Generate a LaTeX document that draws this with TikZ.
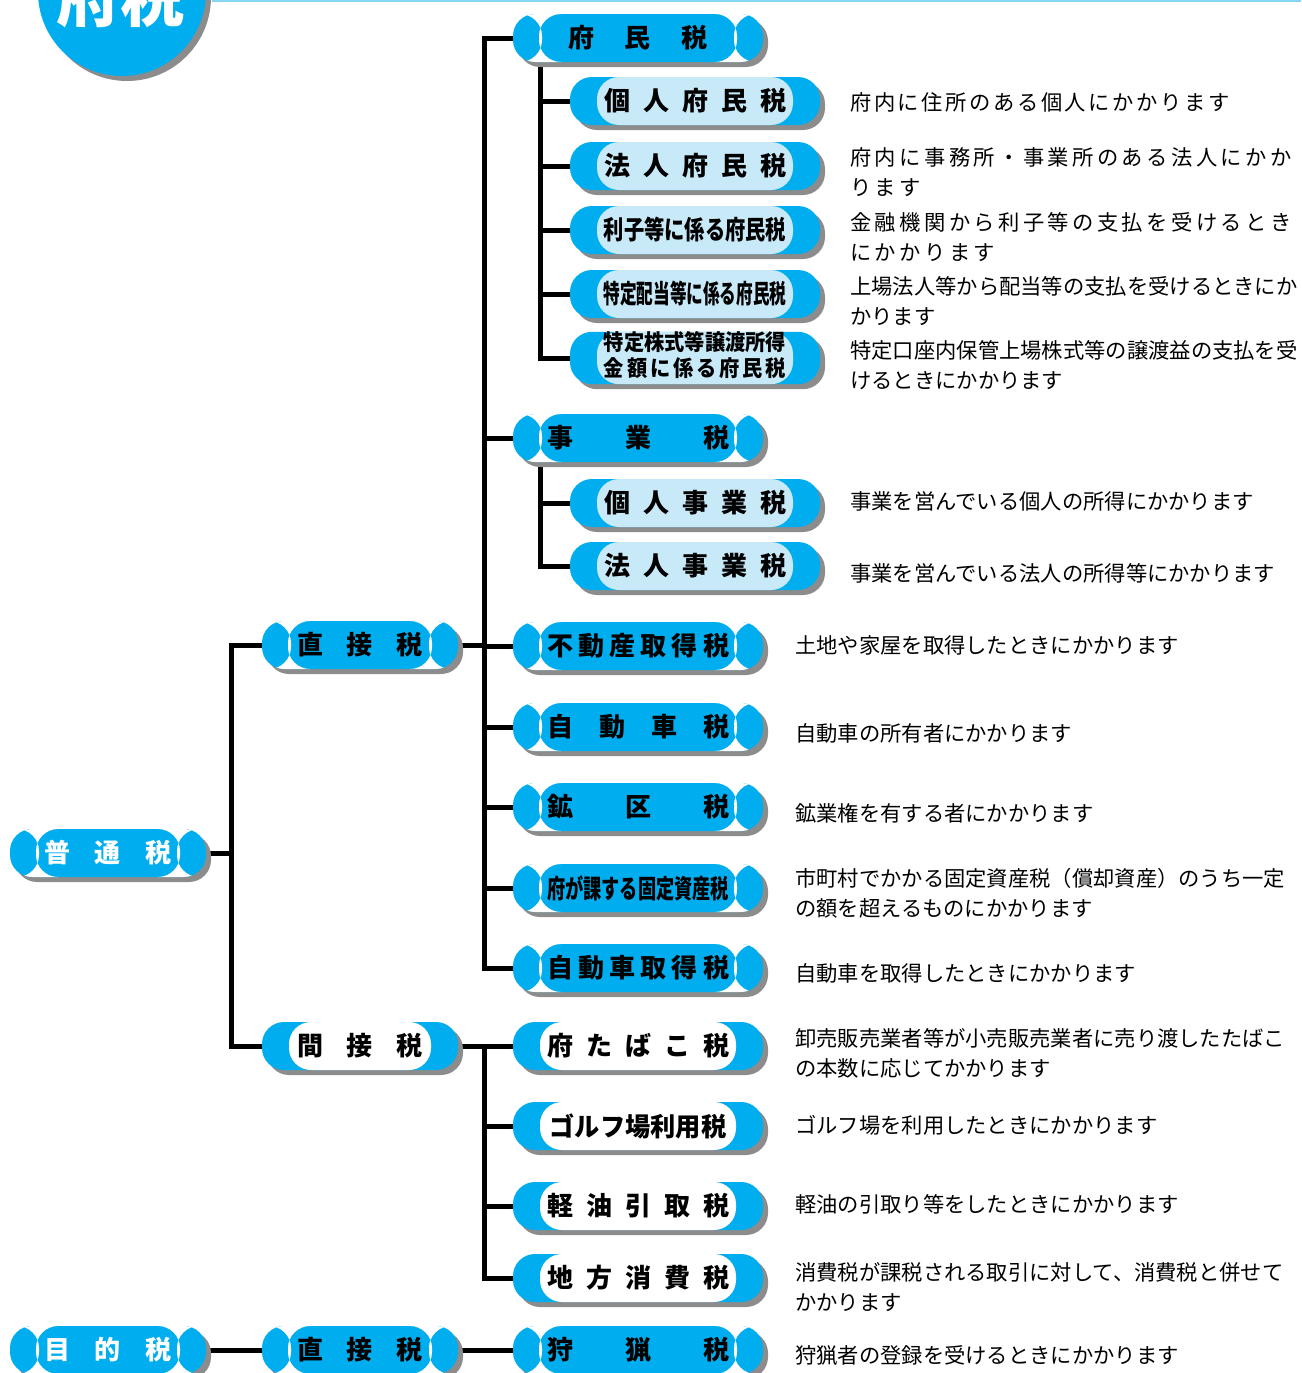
\documentclass[tikz,border=0pt]{standalone}
\usepackage{fontspec}
\usepackage{graphicx}
\usepackage{tikz}
\usetikzlibrary{shadows}
\pgfdeclarelayer{bg}
\pgfsetlayers{bg,main}
\newfontfamily\jp{Noto Sans CJK JP}
\definecolor{fublue}{HTML}{00AEEF}
\definecolor{fupale}{HTML}{C8E9F8}
\definecolor{fushadow}{HTML}{8C8C8C}
\definecolor{fuline}{HTML}{85D5F5}
\newcommand{\spreadlabel}[2]{\makebox[#1][s]{#2}}

\begin{document}
\begin{tikzpicture}[
			x = 1pt, y = -1pt,
			every node/.style = {inner sep = 0pt},
			pill/.style = {rectangle, rounded corners = 22pt, fill = fublue, minimum height = 48pt,
				drop shadow = {shadow xshift = 5pt, shadow yshift = -5pt, fill = fushadow, opacity = 1},
				font = \jp\bfseries\fontsize{26}{28}\selectfont},
			narrowpill/.style = {pill, minimum width = 196pt},
			widepill/.style = {pill, minimum width = 250pt},
			barbox/.style = {path picture = {
				\fill[white] ([xshift = 26pt]path picture bounding box.south west) rectangle ([xshift = 29pt]path picture bounding box.north west);
				\fill[white] ([xshift = -29pt]path picture bounding box.south east) rectangle ([xshift = -26pt]path picture bounding box.north east);}},
			palebox/.style = {path picture = {
				\fill[fupale] ([xshift = 27pt]path picture bounding box.south west) rectangle ([xshift = -27pt]path picture bounding box.north east);}},
			whitebox/.style = {path picture = {
				\fill[white] ([xshift = 27pt]path picture bounding box.south west) rectangle ([xshift = -27pt]path picture bounding box.north east);}},
			link/.style = {line width = 5pt},
			desc/.style = {anchor = west, align = left, font = \jp\fontsize{21.3}{30}\selectfont\addfontfeature{LetterSpace = #1}},
			desc/.default = 0
			]

			\useasboundingbox (0,0) rectangle (1301,1373);

			\fill[fushadow] (127,-3) circle (84);
			\fill[fublue] (122,-8) circle (84);
			\node[font = \jp\bfseries\fontsize{64}{64}\selectfont, text = white] (title) at (120,-3) {府税};
			\draw[fuline, line width = 2pt] (212,1) -- (1301,1);

			\node[narrowpill, barbox, text = white] (futsu) at (108,853) {\spreadlabel{127pt}{普\hfill 通\hfill 税}};
			\node[narrowpill, barbox, text = white] (mokuteki) at (108,1350) {\spreadlabel{127pt}{目\hfill 的\hfill 税}};

			\node[narrowpill, barbox] (choku) at (360,645) {\spreadlabel{125pt}{直\hfill 接\hfill 税}};
			\node[narrowpill, whitebox] (kansetsu) at (360,1046) {\spreadlabel{125pt}{間\hfill 接\hfill 税}};
			\node[narrowpill, barbox] (choku2) at (360,1350) {\spreadlabel{125pt}{直\hfill 接\hfill 税}};

			\node[widepill, barbox] (fumin) at (638,38) {\spreadlabel{140pt}{府\hfill 民\hfill 税}};
			\node[widepill, barbox] (jigyo) at (638,438) {\spreadlabel{182pt}{事\hfill 業\hfill 税}};
			\node[widepill, barbox] (fudosan) at (638,646) {\spreadlabel{182pt}{不\hfill 動\hfill 産\hfill 取\hfill 得\hfill 税}};
			\node[widepill, barbox] (jidosha) at (638,727) {\spreadlabel{182pt}{自\hfill 動\hfill 車\hfill 税}};
			\node[widepill, barbox] (koku) at (638,807) {\spreadlabel{182pt}{鉱\hfill 区\hfill 税}};
			\node[widepill, barbox] (kotei) at (638,888) {\scalebox{0.7}[1]{府が課する固定資産税}};
			\node[widepill, barbox] (shutoku) at (638,968) {\spreadlabel{182pt}{自\hfill 動\hfill 車\hfill 取\hfill 得\hfill 税}};
			\node[widepill, whitebox] (tabako) at (638,1046) {\spreadlabel{182pt}{府\hfill た\hfill ば\hfill こ\hfill 税}};
			\node[widepill, whitebox] (golf) at (638,1126) {\scalebox{0.97}[1]{ゴルフ場利用税}};
			\node[widepill, whitebox] (keiyu) at (638,1206) {\spreadlabel{182pt}{軽\hfill 油\hfill 引\hfill 取\hfill 税}};
			\node[widepill, whitebox] (shohi) at (638,1278) {\spreadlabel{182pt}{地\hfill 方\hfill 消\hfill 費\hfill 税}};
			\node[widepill, barbox] (shuryo) at (638,1350) {\spreadlabel{182pt}{狩\hfill 猟\hfill 税}};

			\node[widepill, palebox] (kojinfu) at (695,101) {\spreadlabel{182pt}{個\hfill 人\hfill 府\hfill 民\hfill 税}};
			\node[widepill, palebox] (hojinfu) at (695,166) {\spreadlabel{182pt}{法\hfill 人\hfill 府\hfill 民\hfill 税}};
			\node[widepill, palebox] (rishi) at (695,230) {\scalebox{0.78}[1]{利子等に係る府民税}};
			\node[widepill, palebox] (haito) at (695,294) {\scalebox{0.64}[1]{特定配当等に係る府民税}};
			\node[widepill, palebox] (kabu) at (695,358) {\fontsize{22}{24}\selectfont\scalebox{0.92}[1]{\begin{tabular}{@{}c@{}}特定株式等譲渡所得\\\spreadlabel{198pt}{金\hfill 額\hfill に\hfill 係\hfill る\hfill 府\hfill 民\hfill 税}\end{tabular}}};
			\node[widepill, palebox] (kojinji) at (695,503) {\spreadlabel{182pt}{個\hfill 人\hfill 事\hfill 業\hfill 税}};
			\node[widepill, palebox] (hojinji) at (695,566) {\spreadlabel{182pt}{法\hfill 人\hfill 事\hfill 業\hfill 税}};

			\node[desc = 12] (d-kojinfu) at (850,102) {府内に住所のある個人にかかります};
			\node[desc = 16] (d-hojinfu) at (850,172) {府内に事務所・事業所のある法人にかか\\ります};
			\node[desc = 16] (d-rishi) at (850,237) {金融機関から利子等の支払を受けるとき\\にかかります};
			\node[desc] (d-haito) at (850,301) {上場法人等から配当等の支払を受けるときにか\\かります};
			\node[desc] (d-kabu) at (850,365) {特定口座内保管上場株式等の譲渡益の支払を受\\けるときにかかります};
			\node[desc] (d-kojinji) at (850,501) {事業を営んでいる個人の所得にかかります};
			\node[desc] (d-hojinji) at (850,573) {事業を営んでいる法人の所得等にかかります};
			\node[desc] (d-fudosan) at (795,645) {土地や家屋を取得したときにかかります};
			\node[desc] (d-jidosha) at (795,733) {自動車の所有者にかかります};
			\node[desc] (d-koku) at (795,813) {鉱業権を有する者にかかります};
			\node[desc] (d-kotei) at (795,893) {市町村でかかる固定資産税（償却資産）のうち一定\\の額を超えるものにかかります};
			\node[desc] (d-shutoku) at (795,973) {自動車を取得したときにかかります};
			\node[desc] (d-tabako) at (795,1053) {卸売販売業者等が小売販売業者に売り渡したたばこ\\の本数に応じてかかります};
			\node[desc] (d-golf) at (795,1125) {ゴルフ場を利用したときにかかります};
			\node[desc] (d-keiyu) at (795,1204) {軽油の引取り等をしたときにかかります};
			\node[desc] (d-shohi) at (795,1287) {消費税が課税される取引に対して、消費税と併せて\\かかります};
			\node[desc] (d-shuryo) at (795,1356) {狩猟者の登録を受けるときにかかります};

			\begin{pgfonlayer}{bg}
				\foreach \n in {choku,kansetsu}{
					\draw[link] (futsu.east) -- ++(25,0) |- (\n.west);
				}
				\foreach \n in {fumin,jigyo,fudosan,jidosha,koku,kotei,shutoku}{
					\draw[link] (choku.east) -- ++(26,0) |- (\n.west);
				}
				\foreach \n in {kojinfu,hojinfu,rishi,haito,kabu}{
					\draw[link] ([xshift = 28pt]fumin.south west) |- (\n.west);
				}
				\foreach \n in {kojinji,hojinji}{
					\draw[link] ([xshift = 28pt]jigyo.south west) |- (\n.west);
				}
				\foreach \n in {tabako,golf,keiyu,shohi}{
					\draw[link] (kansetsu.east) -- ++(26,0) |- (\n.west);
				}
				\draw[link] (mokuteki.east) -- (choku2.west);
				\draw[link] (choku2.east) -- (shuryo.west);
			\end{pgfonlayer}

		\end{tikzpicture}
\end{document}
